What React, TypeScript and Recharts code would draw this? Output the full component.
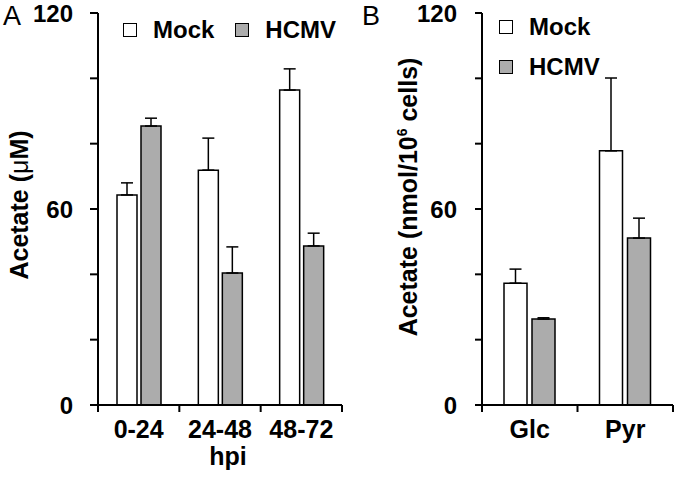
import { BarChart, Bar, XAxis, YAxis, ErrorBar, Legend } from "recharts";

// panel A: acetate over time (hpi)
const hpiLabels = ["0-24", "24-48", "48-72"];
const mockHpi = [64.3, 71.9, 96.4];
const mockHpiErr = [3.7, 9.8, 6.5];
const hcmvHpi = [85.4, 40.4, 48.7];
const hcmvHpiErr = [2.4, 8.0, 3.9];

// panel B: acetate by carbon source
const substrates = ["Glc", "Pyr"];
const mockSub = [37.3, 77.8];
const mockSubErr = [4.3, 22.3];
const hcmvSub = [26.3, 51.1];
const hcmvSubErr = [0.4, 6.1];

const seriesNames = ["Mock", "HCMV"];
const yTicks = [0, 20, 40, 60, 80, 100, 120];
const yLabelled = [0, 60, 120];

const FONT = '"Liberation Sans", Arial, sans-serif';
const GREY = "#acacac";

const hpiRows = hpiLabels.map((cat, i) => ({
  cat,
  mock: mockHpi[i],
  mockErr: [0, mockHpiErr[i]],
  hcmv: hcmvHpi[i],
  hcmvErr: [0, hcmvHpiErr[i]],
}));

const subRows = substrates.map((cat, i) => ({
  cat,
  mock: mockSub[i],
  mockErr: [0, mockSubErr[i]],
  hcmv: hcmvSub[i],
  hcmvErr: [0, hcmvSubErr[i]],
}));

function YTick({ x, y, payload }: any) {
  if (!yLabelled.includes(payload.value)) return <g />;
  return (
    <text x={x} y={y} dy={8.5} textAnchor="end" fontSize={24} fontWeight="bold" fill="#000" fontFamily={FONT}>
      {payload.value}
    </text>
  );
}

function XTick({ x, y, payload, lastCat, band }: any) {
  const half = payload?.offset ?? band / 2;
  return (
    <g>
      <line x1={x - half} x2={x - half} y1={y} y2={y + 7} stroke="#000" strokeWidth={2} />
      {payload.value === lastCat && (
        <line x1={x + half} x2={x + half} y1={y} y2={y + 7} stroke="#000" strokeWidth={2} />
      )}
      <text x={x} y={y + 33} textAnchor="middle" fontSize={25} fontWeight="bold" fill="#000" fontFamily={FONT}>
        {payload.value}
      </text>
    </g>
  );
}

function LegendKeys({ payload, vertical }: any) {
  const items = [...(payload || [])].sort(
    (a: any, b: any) => seriesNames.indexOf(a.value) - seriesNames.indexOf(b.value)
  );
  return (
    <div style={{ display: "flex", flexDirection: vertical ? "column" : "row", fontFamily: FONT }}>
      {items.map((p: any) => (
        <div
          key={p.value}
          style={{
            display: "flex",
            alignItems: "center",
            height: vertical ? 40 : 30,
            marginRight: vertical ? 0 : 21,
          }}
        >
          <span
            style={{
              display: "inline-block",
              width: 14,
              height: 14,
              boxSizing: "border-box",
              border: "1.5px solid #000",
              background: p.color,
              marginRight: 16,
            }}
          />
          <span style={{ fontSize: 24, fontWeight: "bold", color: "#000", lineHeight: 1 }}>{p.value}</span>
        </div>
      ))}
    </div>
  );
}

const axisStroke = { stroke: "#000", strokeWidth: 2 };

function TitleA() {
  return (
    <g fontFamily={FONT} fill="#000">
      <text x={3} y={25} fontSize={27}>A</text>
      <text transform="translate(28,205) rotate(-90)" textAnchor="middle" fontSize={25} fontWeight="bold">
        Acetate (<tspan fontWeight="normal">μ</tspan>M)
      </text>
    </g>
  );
}

function TitleB() {
  return (
    <g fontFamily={FONT} fill="#000">
      <text x={22} y={25} fontSize={27}>B</text>
      <text transform="translate(77,197) rotate(-90)" textAnchor="middle" fontSize={25} fontWeight="bold">
        Acetate (nmol/10<tspan dy={-10} fontSize={14}>6</tspan>
        <tspan dy={10}> cells)</tspan>
      </text>
    </g>
  );
}

export default function App() {
  return (
    <div
      style={{
        position: "absolute",
        left: 0,
        top: 0,
        width: 677,
        height: 477,
        background: "#fff",
        fontFamily: FONT,
      }}
    >
      <div style={{ position: "absolute", left: 0, top: 0 }}>
        <BarChart
          width={350}
          height={477}
          data={hpiRows}
          margin={{ top: 13, right: 8, bottom: 12, left: 38 }}
          barGap={4}
        >
          <XAxis
            dataKey="cat"
            height={60}
            tickSize={0}
            tickMargin={0}
            axisLine={axisStroke}
            tickLine={false}
            interval={0}
            tick={(p: any) => <XTick {...p} lastCat={hpiLabels[hpiLabels.length - 1]} band={244 / 3} />}
            label={{ value: "hpi", position: "insideBottom", offset: 0, dx: 8, fontSize: 25, fontWeight: "bold", fill: "#000", fontFamily: FONT }}
          />
          <YAxis
            width={60}
            domain={[0, 120]}
            ticks={yTicks}
            interval={0}
            tickSize={8}
            tickMargin={17}
            axisLine={axisStroke}
            tickLine={axisStroke}
            tick={<YTick />}
            label={{ content: () => <TitleA /> }}
          />
          <Legend
            layout="horizontal"
            verticalAlign="middle"
            align="center"
            wrapperStyle={{ top: 15, left: 123, width: "auto" }}
            content={(p: any) => <LegendKeys payload={p.payload} />}
          />
          <Bar dataKey="mock" name="Mock" fill="#fff" stroke="#000" strokeWidth={1.5} barSize={20} isAnimationActive={false}>
            <ErrorBar dataKey="mockErr" width={6} stroke="#000" strokeWidth={1.5} direction="y" />
          </Bar>
          <Bar dataKey="hcmv" name="HCMV" fill={GREY} stroke="#000" strokeWidth={1.5} barSize={20} isAnimationActive={false}>
            <ErrorBar dataKey="hcmvErr" width={6} stroke="#000" strokeWidth={1.5} direction="y" />
          </Bar>
        </BarChart>
      </div>
      <div style={{ position: "absolute", left: 340, top: 0 }}>
        <BarChart
          width={337}
          height={477}
          data={subRows}
          margin={{ top: 13, right: 4, bottom: 12, left: 82 }}
          barGap={5}
        >
          <XAxis
            dataKey="cat"
            height={60}
            tickSize={0}
            tickMargin={0}
            axisLine={axisStroke}
            tickLine={false}
            interval={0}
            tick={(p: any) => <XTick {...p} lastCat={substrates[substrates.length - 1]} band={191 / 2} />}
          />
          <YAxis
            width={60}
            domain={[0, 120]}
            ticks={yTicks}
            interval={0}
            tickSize={7}
            tickMargin={18}
            axisLine={axisStroke}
            tickLine={axisStroke}
            tick={<YTick />}
            label={{ content: () => <TitleB /> }}
          />
          <Legend
            layout="vertical"
            verticalAlign="middle"
            align="center"
            wrapperStyle={{ top: 7, left: 159, width: "auto" }}
            content={(p: any) => <LegendKeys payload={p.payload} vertical />}
          />
          <Bar dataKey="mock" name="Mock" fill="#fff" stroke="#000" strokeWidth={1.5} barSize={23} isAnimationActive={false}>
            <ErrorBar dataKey="mockErr" width={6} stroke="#000" strokeWidth={1.5} direction="y" />
          </Bar>
          <Bar dataKey="hcmv" name="HCMV" fill={GREY} stroke="#000" strokeWidth={1.5} barSize={23} isAnimationActive={false}>
            <ErrorBar dataKey="hcmvErr" width={6} stroke="#000" strokeWidth={1.5} direction="y" />
          </Bar>
        </BarChart>
      </div>
    </div>
  );
}
